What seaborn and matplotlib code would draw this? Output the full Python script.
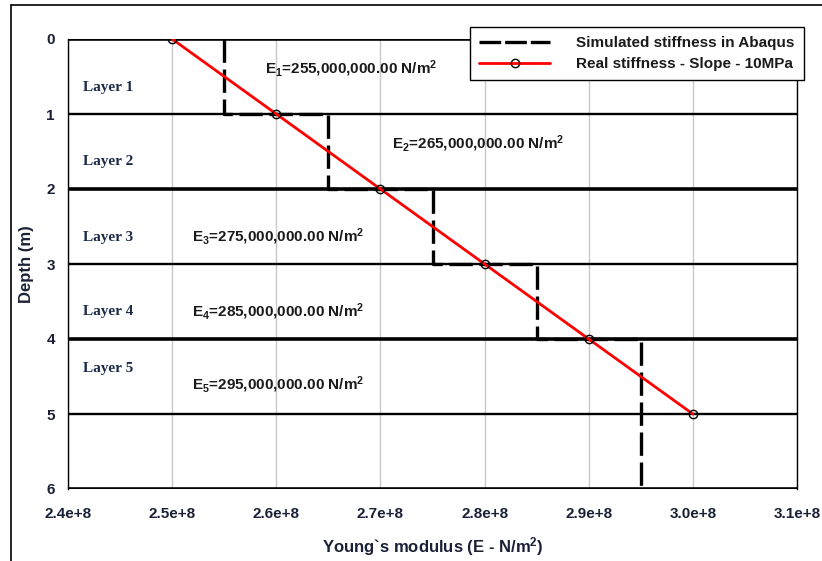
import matplotlib
matplotlib.use("Agg")
import matplotlib.pyplot as plt
import matplotlib.ticker as mticker
from matplotlib.lines import Line2D
import seaborn as sns
import pandas as pd

# ---- data ----
real_E = [2.5e8, 2.6e8, 2.7e8, 2.8e8, 2.9e8, 3.0e8]
real_depth = [0, 1, 2, 3, 4, 5]

sim_E = [2.55e8, 2.55e8, 2.65e8, 2.65e8, 2.75e8, 2.75e8, 2.85e8, 2.85e8, 2.95e8, 2.95e8]
sim_depth = [0, 1, 1, 2, 2, 3, 3, 4, 4, 6]

layer_bounds = [0, 1, 2, 3, 4, 5, 6]
layer_names = ["Layer 1", "Layer 2", "Layer 3", "Layer 4", "Layer 5"]
layer_label_depth = [0.65, 1.64, 2.65, 3.64, 4.39]

e_labels = ["E$_1$=255,000,000.00 N/m$^2$", "E$_2$=265,000,000.00 N/m$^2$",
            "E$_3$=275,000,000.00 N/m$^2$", "E$_4$=285,000,000.00 N/m$^2$",
            "E$_5$=295,000,000.00 N/m$^2$"]
e_label_x = [2.589e8, 2.711e8, 2.519e8, 2.519e8, 2.519e8]
e_label_depth = [0.39, 1.39, 2.63, 3.64, 4.61]

x_ticks = [2.4e8, 2.5e8, 2.6e8, 2.7e8, 2.8e8, 2.9e8, 3.0e8, 3.1e8]
x_tick_labels = ["2.4e+8", "2.5e+8", "2.6e+8", "2.7e+8", "2.8e+8", "2.9e+8", "3.0e+8", "3.1e+8"]
y_ticks = [0, 1, 2, 3, 4, 5, 6]

sns.set_style("white")
plt.rcParams['font.family'] = ['Liberation Sans', 'DejaVu Sans']
plt.rcParams['mathtext.default'] = 'regular'

fig = plt.figure(figsize=(8.22, 5.61), dpi=100)
ax = fig.add_axes([68/822, 1-489/561, (797-68)/822, (489-39)/561])

# vertical grid
for xv in x_ticks:
    ax.axvline(xv, color="#c8c8c8", lw=1.0, zorder=0)

# layer boundaries
for d in layer_bounds:
    lw = 2.6 if d % 2 == 0 else 1.7
    ax.axhline(d, color="black", lw=lw, zorder=1, solid_capstyle="butt")

sim_df = pd.DataFrame({"E": sim_E, "depth": sim_depth})
real_df = pd.DataFrame({"E": real_E, "depth": real_depth})

sns.lineplot(data=sim_df, x="E", y="depth", sort=False, estimator=None, ax=ax,
             color="black", lw=2.4, dashes=False, zorder=3)
ax.lines[-1].set_dashes((7, 2))
ax.lines[-1].set_dash_capstyle("butt")
sns.lineplot(data=real_df, x="E", y="depth", sort=False, estimator=None, ax=ax,
             color="red", lw=2.0, marker="o", markersize=6, markerfacecolor="none",
             markeredgecolor="black", markeredgewidth=1.0, zorder=4)

ax.set_xlim(2.4e8, 3.1e8)
ax.set_ylim(6, 0)
ax.set_xticks(x_ticks)
ax.xaxis.set_major_formatter(mticker.FixedFormatter(x_tick_labels))
ax.set_yticks(y_ticks)
ax.tick_params(axis="both", direction="out", width=1, colors="black",
               labelsize=11, labelcolor="#1a2035")
for lab in ax.get_xticklabels() + ax.get_yticklabels():
    lab.set_fontweight("bold")
ax.tick_params(axis="x", length=5, pad=8)
ax.tick_params(axis="y", length=2.5, pad=7)

for sp in ["left", "right"]:
    ax.spines[sp].set_visible(True)
    ax.spines[sp].set_color("black")
    ax.spines[sp].set_linewidth(1.0)
ax.spines["top"].set_visible(False)
ax.spines["bottom"].set_visible(False)

ax.set_xlabel("Young`s modulus (E - N/m$^2$)", fontsize=12, fontweight="bold",
              color="#1a2035", labelpad=10)
ax.set_ylabel("Depth (m)", fontsize=12, fontweight="bold", color="#1a2035", labelpad=9)

for name, dep in zip(layer_names, layer_label_depth):
    ax.text(2.4144e8, dep, name, family=["Liberation Serif"], fontweight="bold",
            fontsize=11, color="#1c2a48", ha="left", va="center", zorder=5)

for lab, xx, dep in zip(e_labels, e_label_x, e_label_depth):
    ax.text(xx, dep, lab, fontsize=11, fontweight="bold", color="#1a1a1a",
            ha="left", va="center", zorder=5)

handles = [Line2D([], [], color="black", lw=2.4, dashes=(6.5, 1.2)),
           Line2D([], [], color="red", lw=2.0, marker="o", markersize=6,
                  markerfacecolor="none", markeredgecolor="black")]
leg = ax.legend(handles, ["Simulated stiffness in Abaqus", "Real stiffness - Slope - 10MPa"],
                loc="upper right", bbox_to_anchor=(1.0096, 1.0267), borderaxespad=0,
                prop={"size": 11, "weight": "bold"},
                frameon=True, fancybox=False, edgecolor="black", framealpha=1,
                handlelength=4.7, borderpad=0.6, labelspacing=0.45, handletextpad=1.7)
leg.get_frame().set_linewidth(1.0)
for t in leg.get_texts():
    t.set_color("#1a1a1a")
leg.set_zorder(10)

# figure frame (left and top)
fig.add_artist(Line2D([11/822, 11/822], [0, 1-5/561], color="black", lw=1.2,
                      transform=fig.transFigure))
fig.add_artist(Line2D([11/822, 1], [1-5/561, 1-5/561], color="black", lw=1.2,
                      transform=fig.transFigure))

fig.savefig("out.png", dpi=100)
